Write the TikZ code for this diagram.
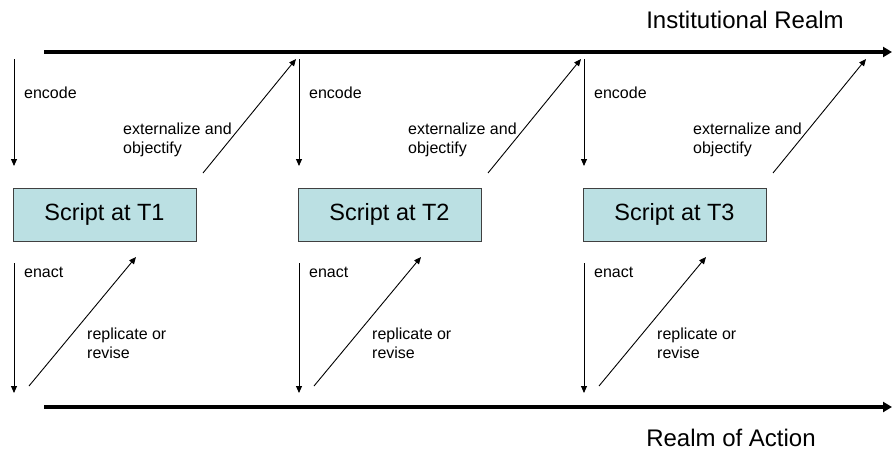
\documentclass[tikz,border=0pt]{standalone}
\usepackage{fontspec}
\setmainfont{Liberation Sans}
\usetikzlibrary{arrows.meta}
\begin{document}
\begin{tikzpicture}[x=1pt,y=-1pt,
  realm/.style={line width=4pt,-{Triangle[length=9pt,width=10pt]}},
  flow/.style={line width=0.9pt,-{Triangle[length=7pt,width=6pt]}},
  scriptbox/.style={draw=black!75,line width=0.8pt,fill=scriptfill,minimum width=183pt,minimum height=53pt,inner sep=0pt,font=\fontsize{23.5}{27}\selectfont},
  lbl/.style={font=\fontsize{16}{19}\selectfont,align=left,anchor=north west,inner sep=0pt},
  ttl/.style={font=\fontsize{24}{28}\selectfont,inner sep=0pt,anchor=base}]
\definecolor{scriptfill}{HTML}{BBE0E3}
\useasboundingbox (0,0) rectangle (892,450);
% realms
\coordinate (iA) at (44,52); \coordinate (iB) at (892,52);
\coordinate (aA) at (44,407); \coordinate (aB) at (892,407);
\draw[realm] (iA) -- (iB);
\draw[realm] (aA) -- (aB);
\node[ttl] (inst) at (745,28) {Institutional Realm};
\node[ttl] (act) at (731,446) {Realm of Action};
% one script stage per time step
\foreach \i/\dx in {1/0,2/285,3/570}{
  \node[scriptbox] (s\i) at (104.5+\dx,214.5) {Script at T\i};
  \coordinate (et\i) at (14+\dx,59);  \coordinate (eb\i) at (14+\dx,166);
  \coordinate (xs\i) at (203+\dx,173); \coordinate (xe\i) at (296+\dx,59);
  \coordinate (nt\i) at (14+\dx,263); \coordinate (nb\i) at (14+\dx,393);
  \coordinate (rs\i) at (29+\dx,386); \coordinate (re\i) at (136+\dx,257);
  \draw[flow] (et\i) -- (eb\i);
  \draw[flow] (xs\i) -- (xe\i);
  \draw[flow] (nt\i) -- (nb\i);
  \draw[flow] (rs\i) -- (re\i);
  \node[lbl] (enc\i) at (24+\dx,87) {encode};
  \node[lbl] (ext\i) at (123+\dx,123) {externalize and\\objectify};
  \node[lbl] (ena\i) at (24+\dx,267) {enact};
  \node[lbl] (rep\i) at (87+\dx,328) {replicate or\\revise};
}
\end{tikzpicture}
\end{document}
